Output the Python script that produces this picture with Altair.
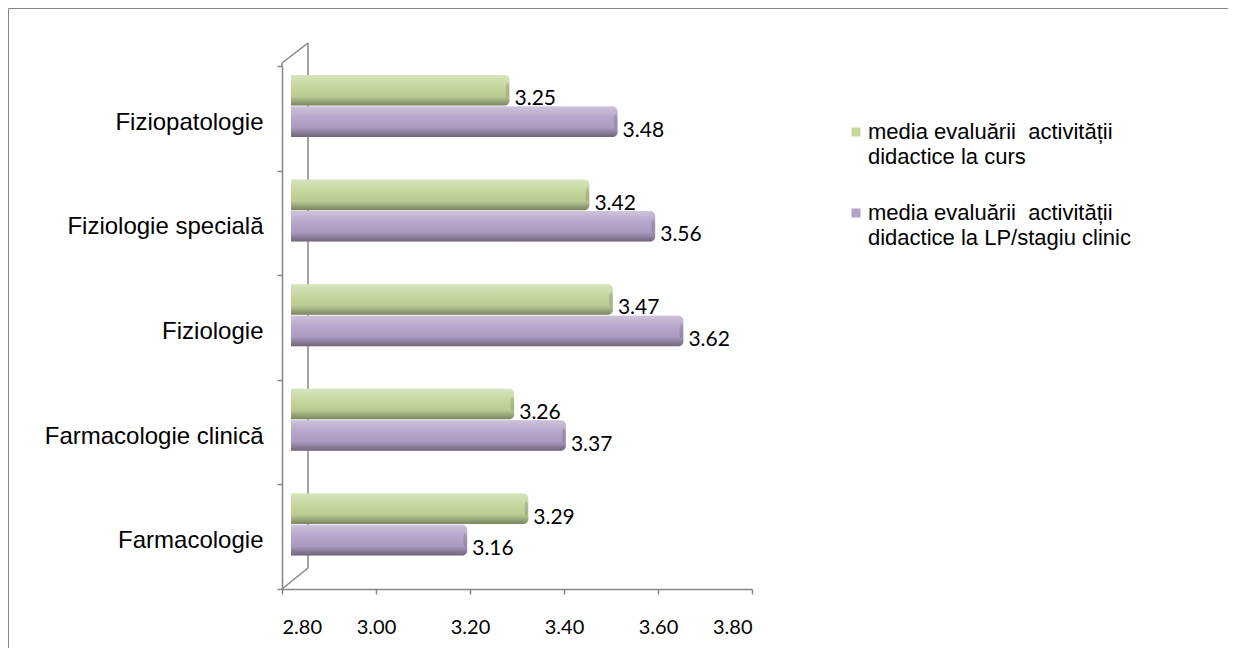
import altair as alt
import pandas as pd

categories = ["Fiziopatologie", "Fiziologie specială", "Fiziologie",
              "Farmacologie clinică", "Farmacologie"]
series = ["media evaluării  activității didactice la curs",
          "media evaluării  activității didactice la LP/stagiu clinic"]
legend_text = ["media evaluării\u00a0 activității\ndidactice la curs",
               "media evaluării\u00a0 activității\ndidactice la LP/stagiu clinic"]
curs = [3.25, 3.42, 3.47, 3.26, 3.29]
lp = [3.48, 3.56, 3.62, 3.37, 3.16]
x_ticks = [2.80, 3.00, 3.20, 3.40, 3.60, 3.80]
colors = ["#c3d69b", "#b3a2c7"]

rows = []
for c, a, b in zip(categories, curs, lp):
    rows.append({"cat": c, "series": series[0], "value": a})
    rows.append({"cat": c, "series": series[1], "value": b})
df = pd.DataFrame(rows)

GRAY = "#868686"

y_enc = alt.Y("cat:N", sort=categories,
              scale=alt.Scale(paddingInner=0, paddingOuter=0),
              axis=alt.Axis(title=None, tickBand="extent", labelFont="Liberation Sans",
                            labelFontSize=24, labelColor="#000000", labelPadding=14,
                            labelOffset=4, labelLimit=0,
                            tickSize=5, tickColor=GRAY, tickWidth=1.5,
                            domainColor=GRAY, domainWidth=1.5))
yoff_enc = alt.YOffset("series:N", sort=series,
                       scale=alt.Scale(range=[9, 71], paddingInner=0.03, paddingOuter=0))
x_enc = alt.X("value:Q",
              scale=alt.Scale(domain=[2.8, 3.8], zero=False, nice=False),
              axis=alt.Axis(values=x_ticks, format=".2f", title=None, grid=False,
                            labelFont="Lato", labelFontSize=20, labelColor="#000000",
                            labelPadding=23, tickSize=5, tickColor=GRAY, tickWidth=1.5,
                            domainColor=GRAY, domainWidth=1.5))
x2_enc = alt.X2(datum=2.8)

color_enc = alt.Color("series:N", sort=series,
                      scale=alt.Scale(domain=series, range=colors), legend=None)

base = alt.Chart(df)

bars = base.mark_bar(xOffset=16, x2Offset=9, cornerRadiusTopRight=5,
                     cornerRadiusBottomRight=5).encode(
    x=x_enc, x2=x2_enc, y=y_enc, yOffset=yoff_enc, color=color_enc)

shade = base.mark_bar(
    xOffset=16, x2Offset=9, cornerRadiusTopRight=5, cornerRadiusBottomRight=5,
    fill=alt.Gradient(
        gradient="linear", x1=0, x2=0, y1=0, y2=1,
        stops=[alt.GradientStop(color="rgba(255,255,255,0.35)", offset=0),
               alt.GradientStop(color="rgba(255,255,255,0.05)", offset=0.35),
               alt.GradientStop(color="rgba(0,0,0,0.05)", offset=0.7),
               alt.GradientStop(color="rgba(0,0,0,0.38)", offset=1)])
).encode(x=x_enc, x2=x2_enc, y=y_enc, yOffset=yoff_enc)

caps = base.mark_point(shape="M0,-1 A0.25,1 0 1,1 0,1 A0.25,1 0 1,1 0,-1 Z",
                       filled=True, size=220, xOffset=14,
                       color="rgba(60,60,60,0.25)").encode(
    x="value:Q", y=y_enc, yOffset=yoff_enc)

labels = base.mark_text(align="left", baseline="middle", dx=21, dy=9,
                        font="Lato", fontSize=21, color="#000000").encode(
    x="value:Q", y=y_enc, yOffset=yoff_enc, text=alt.Text("value:Q", format=".2f"))

one = alt.Data(values=[{"k": 1}])


def rule(x1, y1, x2, y2):
    return alt.Chart(one).mark_rule(color=GRAY, strokeWidth=1.5).encode(
        x=alt.value(x1), y=alt.value(y1), x2=alt.value(x2), y2=alt.value(y2))


wall = [rule(26, -23, 26, 502), rule(0, -3, 26, -23), rule(0, 523, 26, 502),
        rule(0, -3, 0, 0)]

border = alt.Chart(one).mark_rect(filled=False, stroke=GRAY, strokeWidth=1).encode(
    x=alt.value(-273.5), y=alt.value(-57.5), x2=alt.value(960), y2=alt.value(600))

legend_layers = []
ys = [66, 147]
for i in range(2):
    ldf = alt.Data(values=[{"series": series[i], "txt": legend_text[i]}])
    sq = alt.Chart(ldf).mark_square(size=81, opacity=1).encode(
        x=alt.value(574), y=alt.value(ys[i]),
        color=alt.Color("series:N", scale=alt.Scale(domain=series, range=colors),
                        legend=None))
    tx = alt.Chart(ldf).mark_text(align="left", baseline="alphabetic", lineBreak="\n",
                                  lineHeight=25, font="Liberation Sans", fontSize=22,
                                  color="#000000").encode(
        x=alt.value(586), y=alt.value(ys[i] + 7), text="txt:N")
    legend_layers += [sq, tx]

chart = alt.layer(border, *wall, bars, shade, caps, labels, *legend_layers).properties(
    width=470, height=523,
    padding={"left": 274, "top": 58, "right": 476, "bottom": 59},
    autosize=alt.AutoSizeParams(type="none"),
).configure_view(stroke=None)

chart.save("out.html", embed_options={"renderer": "svg", "actions": False})
